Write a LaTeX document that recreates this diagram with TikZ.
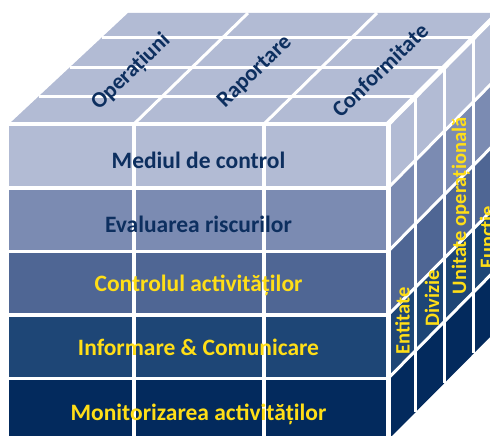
\documentclass[tikz,border=0pt]{standalone}
\usepackage{fontspec}
\setmainfont{Carlito}
\usetikzlibrary{calc}
\definecolor{cA}{HTML}{B2BBD4}
\definecolor{cB}{HTML}{7B8BB2}
\definecolor{cC}{HTML}{4F6694}
\definecolor{cD}{HTML}{1E4676}
\definecolor{cE}{HTML}{032A5D}
\definecolor{navy}{HTML}{0D2F5F}
\definecolor{gold}{HTML}{FFDE17}
\begin{document}
\begin{tikzpicture}[x=1pt,y=-1pt,
  gridline/.style={draw=white,line width=3pt},
  frontline/.style={draw=white,line width=3.5pt},
  edgeline/.style={draw=white,line width=5pt},
  frontlbl/.style={font=\fontsize{23.5}{23.5}\selectfont\bfseries,anchor=base,inner sep=0pt},
  toplbl/.style={font=\fontsize{22.5}{22.5}\selectfont\bfseries,text=navy,anchor=center,inner sep=0pt,rotate=44},
  sidelbl/.style={font=\fontsize{20.5}{20.5}\selectfont\bfseries,text=gold,anchor=base,inner sep=0pt,rotate=90}]
\useasboundingbox (0,0) rectangle (490,436);
\clip (0,0) rectangle (490,436);
% corners
\coordinate (FLT) at (9,124);
\coordinate (FRT) at (388,124);
\coordinate (BRT) at (498,13);
\coordinate (BLT) at (128,13);
\coordinate (FLB) at (9,440);
\coordinate (FRB) at (388,440);
\coordinate (BRB) at (498,329);
% top face
\fill[cA] (FLT) -- (FRT) -- (BRT) -- (BLT) -- cycle;
% front rows and right face rows
\foreach \a/\b/\c in {124/188/cA,188/251.5/cB,251.5/315/cC,315/378.5/cD,378.5/440/cE}{
  \fill[\c] (9,\a) rectangle (388,\b);
  \fill[\c] (388,\a) -- (498,\a-111) -- (498,\b-111) -- (388,\b) -- cycle;
}
% top grid
\foreach \v in {0.252,0.513,0.78}{
  \draw[gridline] ($(FLT)!\v!(BLT)$) -- ($(FRT)!\v!(BRT)$);
}
\draw[gridline] (134,124) -- (248,13);
\draw[gridline] (264,124) -- (377,13);
% front grid
\foreach \y in {188,251.5,315,378.5}{
  \draw[frontline] (9,\y) -- (388,\y);
  \draw[gridline] (388,\y) -- (498,\y-111);
}
\draw[frontline] (134,124) -- (134,440);
\draw[frontline] (264,124) -- (264,440);
% right face columns
\foreach \v in {0.252,0.513,0.78}{
  \draw[gridline] ($(FRT)!\v!(BRT)$) -- ($(FRB)!\v!(BRB)$);
}
% edges
\draw[draw=white,line width=4.5pt] (FLT) -- (FRT);
\draw[edgeline] (FRT) -- (FRB);
\draw[edgeline] (FRT) -- (BRT);
% front labels
\node[frontlbl,text=navy] (mc) at (198.5,168) {Mediul de control};
\node[frontlbl,text=navy] (er) at (198.5,232) {Evaluarea riscurilor};
\node[frontlbl,text=gold] (ca) at (198.5,291) {Controlul activităților};
\node[frontlbl,text=gold] (ic) at (198.5,355) {Informare \& Comunicare};
\node[frontlbl,text=gold] (ma) at (198.5,420) {Monitorizarea activităților};
% top labels
\node[toplbl] (op) at (131,72) {Operațiuni};
\node[toplbl] (ra) at (255,72) {Raportare};
\node[toplbl] (co) at (380,70) {Conformitate};
% side labels
\node[sidelbl] (en) at (409.5,321) {Entitate};
\node[sidelbl] (di) at (439,298) {Divizie};
\node[sidelbl] (uo) at (466,206) {Unitate operațională};
\node[sidelbl] (fu) at (494,237) {Funcție};
\end{tikzpicture}
\end{document}
